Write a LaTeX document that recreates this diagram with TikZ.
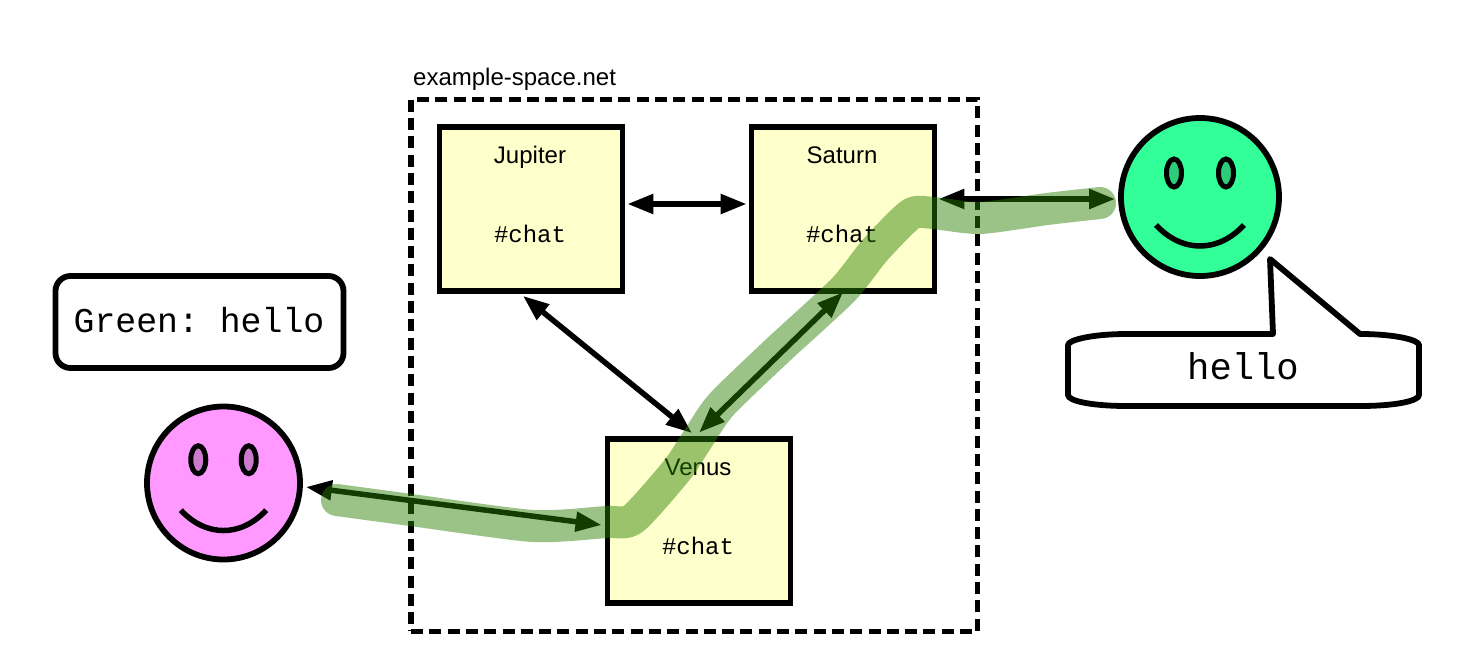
\documentclass[tikz,border=0pt]{standalone}
\usepackage{fontspec}
\setmainfont{Liberation Sans}
\setmonofont{Liberation Mono}
\usetikzlibrary{arrows.meta}
\definecolor{boxyellow}{HTML}{FFFFCC}
\definecolor{facegreen}{HTML}{33FF99}
\definecolor{eyegreen}{HTML}{2ECC7A}
\definecolor{facepink}{HTML}{FF99FF}
\definecolor{eyepink}{HTML}{CC7ACC}
\definecolor{trail}{HTML}{2A8000}
\tikzset{
    planet/.style={draw, line width=5.8pt, fill=boxyellow, minimum width=183pt, minimum height=164pt, inner sep=0pt},
    planetname/.style={anchor=base, font=\fontsize{24}{28}\selectfont},
    channel/.style={anchor=base, font=\fontsize{24}{28}\selectfont\ttfamily},
    spacebox/.style={draw, line width=5.6pt, dash pattern=on 12pt off 6.3pt, minimum width=566.5pt, minimum height=532pt, inner sep=0pt},
    face/.style={draw, circle, line width=5.8pt, inner sep=0pt},
    link/.style={line width=5.5pt, {Triangle[length=26pt,width=19pt]}-{Triangle[length=26pt,width=19pt]}},
    chatbox/.style={draw, line width=5.8pt, rounded corners=15pt, minimum width=288pt, minimum height=92pt, inner sep=0pt}
}
\begin{document}
\begin{tikzpicture}[x=1pt, y=-1pt]
    \useasboundingbox (0,0) rectangle (1461,667);

    % Network border and its label
    \node[spacebox] (space) at (694.25,365.4) {};
    \node[anchor=base west, inner sep=0pt, font=\fontsize{24}{28}\selectfont] (spacename) at (413,85) {example-space.net};

    % Servers
    \foreach \name/\txt/\x/\y in {jupiter/Jupiter/531/209, saturn/Saturn/843/209, venus/Venus/699/521} {
        \node[planet] (\name) at (\x,\y) {};
        \node[planetname] (\name title) at ([shift={(-1,-46)}]\name.center) {\txt};
        \node[channel] (\name chat) at ([shift={(-1,33.5)}]\name.center) {\#chat};
    }

    % Users
    \node[face, fill=facegreen, minimum size=158pt] (greenface) at (1200,197) {};
    \node[face, fill=facepink, minimum size=153pt] (pinkface) at (223.5,483) {};
    \foreach \who/\eye/\k in {greenface/eyegreen/1, pinkface/eyepink/0.97} {
        \draw[line width=5pt, fill=\eye] ([shift={(-26*\k,-24*\k)}]\who.center) ellipse [x radius=7.5, y radius=14];
        \draw[line width=5pt, fill=\eye] ([shift={(26*\k,-24*\k)}]\who.center) ellipse [x radius=7.5, y radius=14];
        \draw[line width=5.5pt] ([shift={(-44*\k,28*\k)}]\who.center) .. controls ([shift={(-18*\k,56*\k)}]\who.center) and ([shift={(18*\k,56*\k)}]\who.center) .. ([shift={(44*\k,28*\k)}]\who.center);
    }

    % Links
    \draw[link] ([shift={(2,-5)}]jupiter.east) -- ([shift={(-2,-5)}]saturn.west);
    \draw[link] ([shift={(-8,2)}]jupiter.south) -- ([shift={(-7,-3)}]venus.north);
    \draw[link] ([shift={(0,-1.5)}]saturn.south) -- ([shift={(0,-3.5)}]venus.north);
    \draw[link] ([shift={(1,-10)}]saturn.east) -- ([shift={(-3,2)}]greenface.west);
    \draw[link] ([shift={(3,4)}]pinkface.east) -- ([shift={(-3,4)}]venus.west);

    % Message route
    \draw[trail, opacity=0.47, line width=32pt, line cap=round, line join=round]
        plot[smooth, tension=0.4] coordinates {(337,500) (411,510) (533,526) (606,522) (633,519) (677,470) (697,440) (721,405) (778,350) (843,290) (875,250) (911,214) (933,213) (980,218) (1047,209) (1100,203)};

    % Message in the client
    \node[chatbox] (chatlog) at (199.5,322) {};
    \node[anchor=base, inner sep=0pt, font=\fontsize{34.8}{40}\selectfont\ttfamily] (chatline) at (199,332) {Green: hello};

    % Speech bubble
    \draw[line width=5.8pt, line join=round] (1127,334) -- (1273,334) -- (1270,259) -- (1360,334)
        .. controls (1395,334) and (1419,340) .. (1419,345) -- (1419,395)
        .. controls (1419,401) and (1395,406) .. (1360,406) -- (1127,406)
        .. controls (1092,406) and (1068,401) .. (1068,395) -- (1068,345)
        .. controls (1068,340) and (1092,334) .. cycle;
    \node[anchor=base, inner sep=0pt, font=\fontsize{37.2}{42}\selectfont\ttfamily] (bubbletext) at (1243,379) {hello};
\end{tikzpicture}
\end{document}
